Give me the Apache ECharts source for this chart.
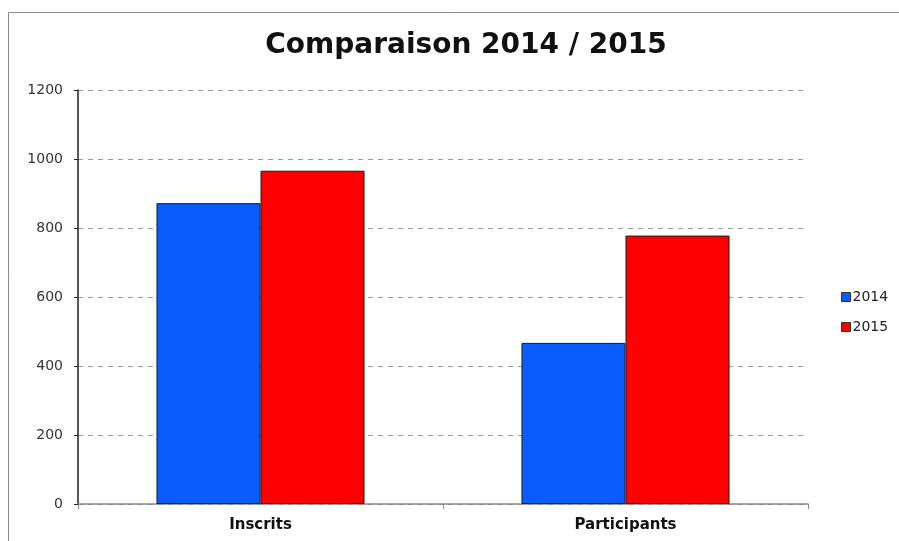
<!DOCTYPE html>
<html>
<head>
<meta charset="utf-8">
<script src="https://cdn.jsdelivr.net/npm/echarts@6/dist/echarts.min.js"></script>
<style>
  html, body { margin: 0; padding: 0; background: #fff; }
  #main { width: 899px; height: 541px; }
</style>
</head>
<body>
<div id="main"></div>
<script>
var categories = ['Inscrits', 'Participants'];
var years = ['2014', '2015'];
var values2014 = [872, 467];
var values2015 = [966, 778];
var yTicks = [0, 200, 400, 600, 800, 1000, 1200];

window.addEventListener('load', function () {
    var chart = echarts.init(document.getElementById('main'));
    var font = 'DejaVu Sans, Arial, sans-serif';

    var option = {
        backgroundColor: '#fff',
        animation: false,
        graphic: [{
            type: 'rect',
            shape: { x: 8.5, y: 12.5, width: 900, height: 540 },
            style: { fill: 'none', stroke: '#8c8c8c', lineWidth: 1 }
        }],
        title: {
            text: 'Comparaison 2014 / 2015',
            left: 461,
            top: 27,
            textAlign: 'center',
            textStyle: { fontFamily: font, fontSize: 28, fontWeight: 'bold', color: '#111' }
        },
        legend: {
            orient: 'vertical',
            left: 836,
            top: 285,
            itemWidth: 9,
            itemHeight: 9,
            itemGap: 16,
            icon: 'rect',
            data: years,
            textStyle: { fontFamily: font, fontSize: 14, color: '#222', padding: [0, 0, 0, -3] },
            itemStyle: { borderColor: '#333', borderWidth: 1 }
        },
        grid: { left: 78, right: 91, top: 90, bottom: 37 },
        xAxis: {
            type: 'category',
            data: categories,
            axisLine: { lineStyle: { color: '#888', width: 1.5 } },
            axisTick: { show: true, length: 5, lineStyle: { color: '#888' } },
            axisLabel: { fontFamily: font, fontSize: 15, fontWeight: 'bold', color: '#111', margin: 14 }
        },
        yAxis: {
            type: 'value',
            min: 0,
            max: 1200,
            interval: 200,
            axisLine: { show: true, lineStyle: { color: '#222', width: 1.5 } },
            axisTick: { show: true, length: 4, lineStyle: { color: '#222' } },
            axisLabel: {
                fontFamily: font, fontSize: 14, color: '#333', margin: 15,
                formatter: function (v) { return yTicks.indexOf(v) >= 0 ? String(v) : ''; }
            },
            splitLine: { lineStyle: { color: '#999', type: [5, 5], width: 1 } }
        },
        series: [{
            name: years[0],
            type: 'bar',
            data: values2014,
            barGap: '0%',
            barCategoryGap: '43%',
            itemStyle: { color: '#0a5cff', borderColor: '#1a1a1a', borderWidth: 1 }
        }, {
            name: years[1],
            type: 'bar',
            data: values2015,
            itemStyle: { color: '#ff0000', borderColor: '#1a1a1a', borderWidth: 1 }
        }]
    };

    chart.setOption(option);
});
</script>
</body>
</html>
